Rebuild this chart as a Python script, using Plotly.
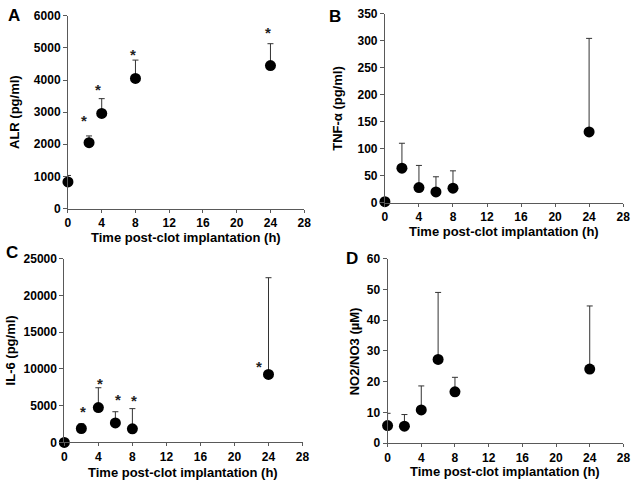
import plotly.graph_objects as go

# ---- data ----
alr_x = [0, 2.5, 4, 8, 24]
alr_y = [830, 2050, 2960, 4050, 4450]
alr_up = [1030, 2260, 3420, 4620, 5130]
alr_star_x = [1.95, 3.55, 7.65, 23.7]
alr_star_y = [2790, 3770, 4860, 5545]

tnf_x = [0, 2, 4, 6, 8, 24]
tnf_y = [2, 64, 28, 20, 27, 131]
tnf_up = [4, 110, 69, 48, 59, 304]

il6_x = [0, 2, 4, 6, 8, 24]
il6_y = [0, 1900, 4750, 2650, 1850, 9250]
il6_up = [0, 2550, 7440, 4180, 4600, 22400]
il6_star_x = [2.15, 4.2, 6.35, 8.2, 22.85]
il6_star_y = [4490, 8280, 6160, 5940, 10650]

no_x = [0, 2, 4, 6, 8, 24]
no_y = [5.7, 5.5, 10.8, 27.2, 16.7, 24.1]
no_up = [9.7, 9.3, 18.6, 49.0, 21.4, 44.6]

x_ticks = [0, 4, 8, 12, 16, 20, 24, 28]

panels = [
    dict(key="A", x=alr_x, y=alr_y, up=alr_up, ymax=6000, dt=1000, title="ALR (pg/ml)",
         sx=alr_star_x, sy=alr_star_y,
         dom_x=[66, 306], dom_y=[9, 207.5], letter=(11, 9), ytitle_x=11, xtitle_y=237.5),
    dict(key="B", x=tnf_x, y=tnf_y, up=tnf_up, ymax=350, dt=50, title="TNF-α (pg/ml)",
         sx=[], sy=[],
         dom_x=[388, 630], dom_y=[6.7, 201.5], letter=(337, 10), ytitle_x=339, xtitle_y=231.5),
    dict(key="C", x=il6_x, y=il6_y, up=il6_up, ymax=25000, dt=5000, title="IL-6 (pg/ml)",
         sx=il6_star_x, sy=il6_star_y,
         dom_x=[62.3, 304.3], dom_y=[259, 448.3], letter=(9, 253), ytitle_x=8, xtitle_y=479),
    dict(key="D", x=no_x, y=no_y, up=no_up, ymax=60, dt=10, title="NO2/NO3 (µM)",
         sx=[], sy=[],
         dom_x=[390.7, 630.3], dom_y=[259, 449], letter=(355, 259), ytitle_x=357, xtitle_y=478),
]

W, H = 638, 489
FONT = "Liberation Sans, Arial, sans-serif"
AXC = "#595959"

fig = go.Figure()
annotations = []
layout = {}
for i, p in enumerate(panels):
    n = "" if i == 0 else str(i + 1)
    xa, ya = "x" + n, "y" + n
    errs = [u - v for u, v in zip(p["up"], p["y"])]
    fig.add_trace(go.Scatter(
        x=p["x"], y=p["y"], mode="markers", xaxis=xa, yaxis=ya,
        marker=dict(color="black", size=11),
        error_y=dict(type="data", symmetric=False, array=errs,
                     arrayminus=[0] * len(errs), color="#333333", thickness=1, width=3),
        cliponaxis=False, showlegend=False))
    for sx, sy in zip(p["sx"], p["sy"]):
        annotations.append(dict(x=sx, y=sy, xref=xa, yref=ya, text="<b>*</b>", showarrow=False,
                                font=dict(family=FONT, size=15, color="#222"), yshift=-2))
    yt = list(range(0, p["ymax"] + 1, p["dt"]))
    layout["xaxis" + n] = dict(
        domain=[p["dom_x"][0] / W, p["dom_x"][1] / W], range=[0, 28], anchor=ya,
        tickvals=x_ticks, ticktext=[str(v) for v in x_ticks],
        ticks="outside", ticklen=3, tickcolor=AXC, showline=True,
        linecolor=AXC, linewidth=1, showgrid=False, zeroline=False,
        tickfont=dict(family=FONT, size=12, color="black", weight="bold"))
    layout["yaxis" + n] = dict(
        domain=[1 - p["dom_y"][1] / H, 1 - p["dom_y"][0] / H], range=[0, p["ymax"]], anchor=xa,
        tickvals=yt, ticktext=[str(v) for v in yt], ticks="outside", ticklen=4,
        tickcolor=AXC, showline=True, linecolor=AXC, linewidth=1, showgrid=False, zeroline=False,
        tickfont=dict(family=FONT, size=12, color="black", weight="bold"))
    cx = (p["dom_x"][0] + p["dom_x"][1]) / 2
    annotations.append(dict(x=cx / W, y=1 - p["xtitle_y"] / H, xref="paper", yref="paper",
                            text="<b>Time post-clot implantation (h)</b>", showarrow=False,
                            xanchor="center", yanchor="middle",
                            font=dict(family=FONT, size=13, color="black")))
    cy = (p["dom_y"][0] + p["dom_y"][1]) / 2
    annotations.append(dict(x=p["ytitle_x"] / W, y=1 - cy / H, xref="paper", yref="paper",
                            text="<b>" + p["title"] + "</b>", showarrow=False, textangle=-90,
                            xanchor="center", yanchor="middle",
                            font=dict(family=FONT, size=13, color="black")))
    annotations.append(dict(x=p["letter"][0] / W, y=1 - p["letter"][1] / H, xref="paper",
                            yref="paper", text="<b>" + p["key"] + "</b>", showarrow=False,
                            xanchor="center", yanchor="middle",
                            font=dict(family=FONT, size=17, color="black")))

fig.update_layout(width=W, height=H, margin=dict(l=0, r=0, t=0, b=0),
                  paper_bgcolor="white", plot_bgcolor="white",
                  annotations=annotations, **layout)
fig.write_html("out.html", config={"displayModeBar": False},
               post_script="document.body.style.margin='0';document.body.style.overflow='hidden';")
